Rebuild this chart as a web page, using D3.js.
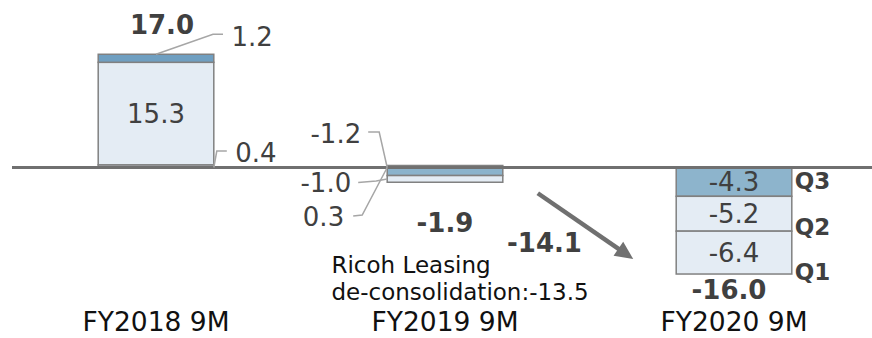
<!DOCTYPE html>
<html>
<head>
<meta charset="utf-8">
<script src="https://cdn.jsdelivr.net/npm/d3@7"></script>
<style>
  html, body { margin: 0; padding: 0; background: #fff; }
  svg { display: block; font-family: "DejaVu Sans", Verdana, sans-serif; }
</style>
</head>
<body>
<svg id="chart" width="872" height="338"></svg>
<script>
// Operating profit by quarter, nine-month cumulative (billion yen)
const categories = ["FY2018 9M", "FY2019 9M", "FY2020 9M"];
const quarterNames = ["Q1", "Q2", "Q3"];
const q1Values = [0.4, 0.3, -6.4];
const q2Values = [15.3, -1.0, -5.2];
const q3Values = [1.2, -1.2, -4.3];
const totals = [17.0, -1.9, -16.0];
const yearChange = -14.1;
const deconsolidationNote = ["Ricoh Leasing", "de-consolidation:-13.5"];

const quarterSeries = [q1Values, q2Values, q3Values];

const W = 872, H = 338;
const svg = d3.select("#chart");

const x = d3.scaleBand()
  .domain(categories)
  .range([11.5, 878.5])
  .paddingInner(0.6)
  .paddingOuter(0.3);

const k = 6.7, zeroY = 167.5;
const y = d3.scaleLinear()
  .domain([-16, 17])
  .range([zeroY + 16 * k, zeroY - 17 * k]);

const style = {
  light: "#e4ecf4",
  q3Fill: ["#6f9fc1", "#8bb3cc", "#8db4cc"],
  border: "#808080",
  text: "#404040",
  leader: "#a6a6a6"
};

// Stack: positives grow upward Q1→Q3, negatives grow downward Q3→Q1
const segments = [];
categories.forEach((cat, i) => {
  let pos = 0, neg = 0;
  [0, 1, 2].forEach(q => {
    const v = quarterSeries[q][i];
    if (v >= 0) { segments.push({ cat, i, q, v, y0: pos, y1: pos + v }); pos += v; }
  });
  [2, 1, 0].forEach(q => {
    const v = quarterSeries[q][i];
    if (v < 0) { segments.push({ cat, i, q, v, y0: neg, y1: neg + v }); neg += v; }
  });
});
const seg = (i, q) => segments.find(s => s.i === i && s.q === q);

const bw = x.bandwidth();

svg.append("g").selectAll("rect")
  .data(segments)
  .join("rect")
  .attr("x", d => x(d.cat))
  .attr("width", bw)
  .attr("y", d => y(Math.max(d.y0, d.y1)))
  .attr("height", d => Math.abs(y(d.y0) - y(d.y1)))
  .attr("fill", d => d.q === 2 ? style.q3Fill[d.i] : style.light)
  .attr("stroke", style.border)
  .attr("stroke-width", 1.5);

// zero line
svg.append("line")
  .attr("x1", 12).attr("x2", W)
  .attr("y1", y(0)).attr("y2", y(0))
  .attr("stroke", "#707070")
  .attr("stroke-width", 3);

const fmt = v => v.toFixed(1);

// values printed inside their segments
const inside = [[0, 1], [2, 2], [2, 1], [2, 0]];
svg.append("g").selectAll("text")
  .data(inside.map(([i, q]) => seg(i, q)))
  .join("text")
  .attr("x", d => x(d.cat) + bw / 2)
  .attr("y", d => (y(d.y0) + y(d.y1)) / 2 + 9.5)
  .attr("text-anchor", "middle")
  .attr("font-size", 26)
  .attr("fill", style.text)
  .text(d => fmt(d.v));

// values printed outside with leader lines
// anchor: where the leader touches the bar; path/label offsets are relative to it
const callouts = [
  { i: 0, q: 2, ax: 0.5, at: "top", path: [[57, -20], [67, -20]], label: [75.5, -8], anchor: "start" },
  { i: 0, q: 0, ax: 1, at: "bottom", path: [[3, -16.5], [13, -16.5]], label: [21.5, -5.5], anchor: "start" },
  { i: 1, q: 2, ax: 0, at: "top", path: [[-8, -35.5], [-19, -35.5]], label: [-26, -24.5], anchor: "end" },
  { i: 1, q: 1, ax: 0, at: "mid", path: [[-11, 2], [-29, 3.5]], label: [-36, 13.5], anchor: "end" },
  { i: 1, q: 0, ax: 0, at: "bottom", path: [[-25, 47.5], [-34, 48.5]], label: [-43, 58.5], anchor: "end" }
];
const leaderG = svg.append("g");
callouts.forEach(c => {
  const s = seg(c.i, c.q);
  const top = y(Math.max(s.y0, s.y1)), bot = y(Math.min(s.y0, s.y1));
  const ay = c.at === "top" ? top : c.at === "bottom" ? bot : (top + bot) / 2;
  const axp = x(s.cat) + bw * c.ax;
  const pts = [[axp, ay]].concat(c.path.map(([dx, dy]) => [axp + dx, ay + dy]));
  leaderG.append("path")
    .attr("d", d3.line()(pts))
    .attr("fill", "none")
    .attr("stroke", style.leader)
    .attr("stroke-width", 1.5);
  leaderG.append("text")
    .attr("x", axp + c.label[0])
    .attr("y", ay + c.label[1])
    .attr("text-anchor", c.anchor)
    .attr("font-size", 26)
    .attr("fill", style.text)
    .text(fmt(s.v));
});

// totals
const totalPos = [
  { dx: 6, y: d => y(d) - 20 },
  { dx: 0, y: d => y(d) + 51.5 },
  { dx: -5, y: d => y(d) + 24.5 }
];
svg.append("g").selectAll("text")
  .data(totals)
  .join("text")
  .attr("x", (d, i) => x(categories[i]) + bw / 2 + totalPos[i].dx)
  .attr("y", (d, i) => totalPos[i].y(d))
  .attr("text-anchor", "middle")
  .attr("font-size", 26)
  .attr("font-weight", "bold")
  .attr("fill", style.text)
  .text(d => fmt(d));

// quarter labels beside the last bar
const lastX = x(categories[2]) + bw + 3;
svg.append("g").selectAll("text")
  .data(quarterNames.slice().reverse())
  .join("text")
  .attr("x", lastX)
  .attr("y", (d, j) => y(0) + 21.5 + j * 45.5)
  .attr("font-size", 23)
  .attr("font-weight", "bold")
  .attr("fill", style.text)
  .text(d => d);

// year-on-year change arrow
const p0 = [x(categories[1]) + bw + 35, y(totals[1]) + 13];
const p1 = [x(categories[2]) - 43, y(yearChange) - 3];
const dxA = p1[0] - p0[0], dyA = p1[1] - p0[1];
const len = Math.hypot(dxA, dyA);
const ux = dxA / len, uy = dyA / len;
const headL = 18, headW = 8.5;
const base = [p1[0] - ux * headL, p1[1] - uy * headL];
svg.append("line")
  .attr("x1", p0[0]).attr("y1", p0[1])
  .attr("x2", base[0] + ux * 2).attr("y2", base[1] + uy * 2)
  .attr("stroke", "#707070")
  .attr("stroke-width", 4.5);
svg.append("path")
  .attr("d", d3.line()([
    p1,
    [base[0] - uy * headW, base[1] + ux * headW],
    [base[0] + uy * headW, base[1] - ux * headW]
  ]) + "Z")
  .attr("fill", "#707070");

svg.append("text")
  .attr("x", (p0[0] + p1[0]) / 2 - 41)
  .attr("y", y(yearChange) - 10)
  .attr("text-anchor", "middle")
  .attr("font-size", 26)
  .attr("font-weight", "bold")
  .attr("fill", style.text)
  .text(fmt(yearChange));

svg.append("g").selectAll("text")
  .data(deconsolidationNote)
  .join("text")
  .attr("x", 331.5)
  .attr("y", (d, j) => 273 + j * 27)
  .attr("font-size", 23)
  .attr("fill", "#111")
  .text(d => d);

// category axis labels
svg.append("g").selectAll("text")
  .data(categories)
  .join("text")
  .attr("x", d => x(d) + bw / 2)
  .attr("y", 331)
  .attr("text-anchor", "middle")
  .attr("font-size", 26.5)
  .attr("fill", "#111")
  .text(d => d);
</script>
</body>
</html>
